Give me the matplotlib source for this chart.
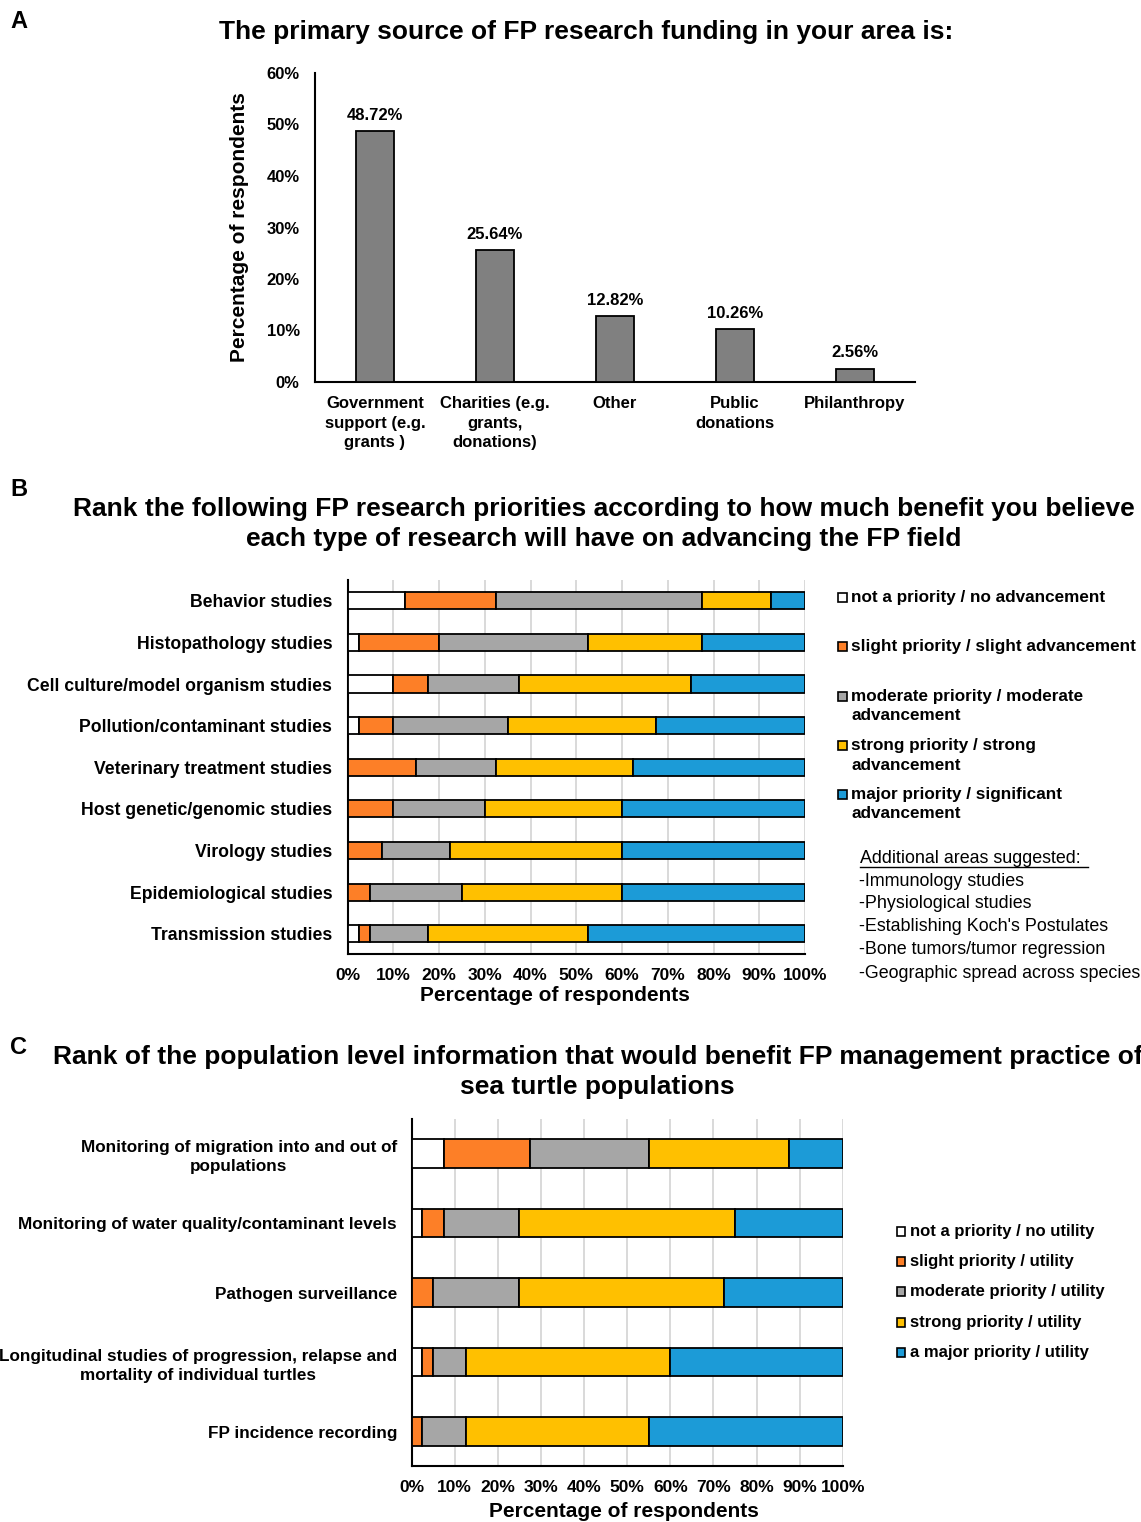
import matplotlib
matplotlib.use("Agg")
import matplotlib.pyplot as plt
from matplotlib.patches import Rectangle
from matplotlib.lines import Line2D

plt.rcParams['font.family'] = ['Liberation Sans', 'DejaVu Sans']

W, H = 1141, 1522

# ---------------- data ----------------
funding_sources = ["Government\nsupport (e.g.\ngrants )", "Charities (e.g.\ngrants,\ndonations)",
                   "Other", "Public\ndonations", "Philanthropy"]
funding_pct = [48.72, 25.64, 12.82, 10.26, 2.56]

research_areas = ["Behavior studies", "Histopathology studies", "Cell culture/model organism studies",
                  "Pollution/contaminant studies", "Veterinary treatment studies",
                  "Host genetic/genomic studies", "Virology studies", "Epidemiological studies",
                  "Transmission studies"]
b_not = [12.5, 2.5, 10, 2.5, 0, 0, 0, 0, 2.5]
b_slight = [20, 17.5, 7.5, 7.5, 15, 10, 7.5, 5, 2.5]
b_moderate = [45, 32.5, 20, 25, 17.5, 20, 15, 20, 12.5]
b_strong = [15, 25, 37.5, 32.5, 30, 30, 37.5, 35, 35]
b_major = [7.5, 22.5, 25, 32.5, 37.5, 40, 40, 40, 47.5]
b_legend = ["not a priority / no advancement", "slight priority / slight advancement",
            "moderate priority / moderate\nadvancement", "strong priority / strong\nadvancement",
            "major priority / significant\nadvancement"]
extra_areas = ["-Immunology studies", "-Physiological studies", "-Establishing Koch's Postulates",
               "-Bone tumors/tumor regression", "-Geographic spread across species"]

population_info = ["Monitoring of migration into and out of\npopulations",
                   "Monitoring of water quality/contaminant levels",
                   "Pathogen surveillance",
                   "Longitudinal studies of progression, relapse and\nmortality of individual turtles",
                   "FP incidence recording"]
c_not = [7.5, 2.5, 0, 2.5, 0]
c_slight = [20, 5, 5, 2.5, 2.5]
c_moderate = [27.5, 17.5, 20, 7.5, 10]
c_strong = [32.5, 50, 47.5, 47.5, 42.5]
c_major = [12.5, 25, 27.5, 40, 45]
c_legend = ["not a priority / no utility", "slight priority / utility", "moderate priority / utility",
            "strong priority / utility", "a major priority / utility"]

colors = ["#FFFFFF", "#FD7F27", "#A6A6A6", "#FFC000", "#1C9BD7"]
pct_ticks = list(range(0, 101, 10))


def fx(px):
    return px / W


def fy(py):
    return 1 - py / H


def axes_px(fig, left, top, right, bottom):
    return fig.add_axes([fx(left), fy(bottom), (right - left) / W, (bottom - top) / H])


fig = plt.figure(figsize=(W / 100, H / 100), dpi=100)

# ---------------- panel A ----------------
axA = axes_px(fig, 315, 73, 915, 382)
xa = range(len(funding_sources))
axA.bar(xa, funding_pct, width=0.32, color="#808080", edgecolor="black", linewidth=1.3, zorder=3)
for x, v in zip(xa, funding_pct):
    axA.annotate(f"{v:.2f}%", (x, v), xytext=(0, 6), textcoords="offset points",
                 ha="center", va="bottom", fontsize=12, fontweight="bold")
axA.set_xlim(-0.5, len(funding_sources) - 0.5)
axA.set_ylim(0, 60)
axA.set_yticks(range(0, 61, 10))
axA.set_yticklabels([f"{t}%" for t in range(0, 61, 10)], fontsize=12, fontweight="bold")
axA.set_xticks(list(xa))
axA.set_xticklabels(funding_sources, fontsize=12, fontweight="bold", linespacing=1.4)
axA.tick_params(axis="both", length=0)
axA.tick_params(axis="y", pad=11)
axA.tick_params(axis="x", pad=10)
for s in ("top", "right"):
    axA.spines[s].set_visible(False)
for s in ("left", "bottom"):
    axA.spines[s].set_linewidth(1.5)
axA.set_ylabel("Percentage of respondents", fontsize=15, fontweight="bold", labelpad=13)
fig.text(fx(586), fy(32), "The primary source of FP research funding in your area is:",
         ha="center", va="center", fontsize=19, fontweight="bold")


def stacked(ax, labels, series, label_pad, label_size, xlabel_pad, xlabel_x):
    ys = list(range(len(labels)))
    left = [0.0] * len(labels)
    for vals, col in zip(series, colors):
        ax.barh(ys, vals, left=left, height=0.41, color=col, edgecolor="black", linewidth=1.3, zorder=3)
        left = [a + b for a, b in zip(left, vals)]
    ax.set_xlim(0, 100)
    ax.set_ylim(len(labels) - 0.5, -0.5)
    ax.set_xticks(pct_ticks)
    ax.set_xticklabels([f"{t}%" for t in pct_ticks], fontsize=12.5, fontweight="bold")
    ax.set_yticks(ys)
    ax.set_yticklabels(labels, fontsize=label_size, fontweight="bold", linespacing=1.35)
    for t in ax.get_yticklabels():
        t.set_multialignment("center")
    ax.tick_params(axis="both", length=0)
    ax.tick_params(axis="y", pad=label_pad)
    ax.tick_params(axis="x", pad=10)
    ax.grid(axis="x", color="#D9D9D9", linewidth=1.4)
    ax.set_axisbelow(True)
    for s in ("top", "right"):
        ax.spines[s].set_visible(False)
    for s in ("left", "bottom"):
        ax.spines[s].set_linewidth(1.5)
    ax.set_xlabel("Percentage of respondents", fontsize=15, fontweight="bold", labelpad=xlabel_pad)
    ax.xaxis.label.set_x(xlabel_x)


def legend_entry(x_box, y_center, text, color, fontsize, line_gap):
    fig.patches.append(Rectangle((fx(x_box), fy(y_center + 4.5)), 8.5 / W, 8.5 / H,
                                 transform=fig.transFigure, facecolor=color,
                                 edgecolor="black", linewidth=1.2))
    for i, line in enumerate(text.split("\n")):
        fig.text(fx(x_box + 13), fy(y_center + 5 + i * line_gap), line, ha="left", va="baseline",
                 fontsize=fontsize, fontweight="bold")


# ---------------- panel B ----------------
axB = axes_px(fig, 347.5, 580, 805, 954.5)
stacked(axB, research_areas, [b_not, b_slight, b_moderate, b_strong, b_major], 11, 12.7, 2, 0.454)
fig.text(fx(603.5), fy(524),
         "Rank the following FP research priorities according to how much benefit you believe\n"
         "each type of research will have on advancing the FP field",
         ha="center", va="center", fontsize=19, fontweight="bold", linespacing=1.33)

for txt, col, yc in zip(b_legend, colors, [597, 646, 696, 745, 794]):
    legend_entry(838, yc, txt, col, 12.3, 19.5)

fig.text(fx(860), fy(858), "Additional areas suggested:", ha="left", va="center", fontsize=12.9)
fig.lines.append(Line2D([fx(860), fx(1088)], [fy(867), fy(867)], transform=fig.transFigure,
                        color="black", linewidth=1.0))
for i, line in enumerate(extra_areas):
    fig.text(fx(859), fy(881 + 23 * i), line, ha="left", va="center", fontsize=12.9)

# ---------------- panel C ----------------
axC = axes_px(fig, 411.7, 1119, 842.7, 1466.4)
stacked(axC, population_info, [c_not, c_slight, c_moderate, c_strong, c_major], 10.5, 12.3, 5, 0.493)
fig.text(fx(597.5), fy(1072),
         "Rank of the population level information that would benefit FP management practice of\n"
         "sea turtle populations",
         ha="center", va="center", fontsize=19, fontweight="bold", linespacing=1.33)
for txt, col, yc in zip(c_legend, colors, [1231, 1261, 1291, 1322, 1352]):
    legend_entry(897, yc, txt, col, 12, 19.5)

# ---------------- panel letters ----------------
for letter, y in (("A", 22), ("B", 489), ("C", 1048)):
    fig.text(fx(10), fy(y), letter, ha="left", va="center", fontsize=17, fontweight="bold")

fig.savefig("out.png", dpi=100)
